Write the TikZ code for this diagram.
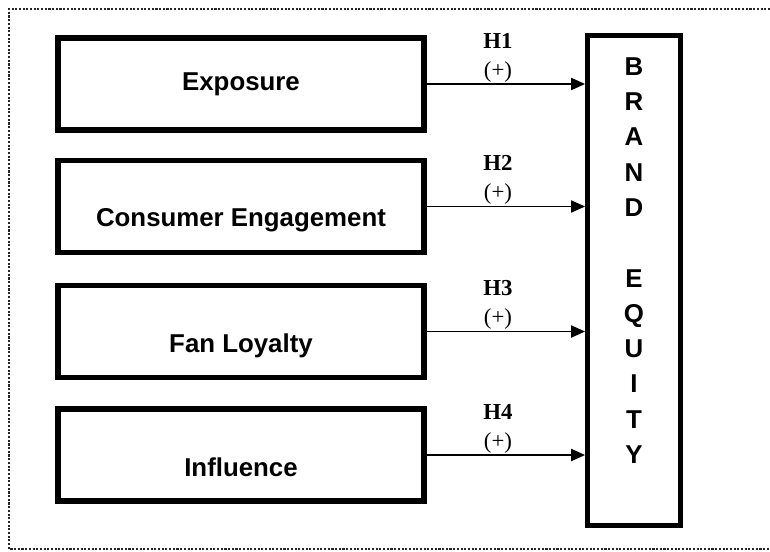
\documentclass[tikz,border=0pt]{standalone}
\usepackage{fontspec}
\setmainfont{Liberation Serif}
\setsansfont{Liberation Sans}
\usepackage{tikz}
\usetikzlibrary{shapes,positioning,arrows.meta}
\tikzset{box/.style={rectangle,draw,line width=3pt,minimum width=7.32cm,minimum height=1.84cm,inner sep=0pt},
         txt/.style={font=\sffamily\bfseries\fontsize{14.7}{17}\selectfont},
         hyp/.style={font=\fontsize{13}{16.4}\selectfont,align=center,inner sep=0.5pt}}

\begin{document}
\begin{tikzpicture}[x=0.02cm,y=-0.02cm,>={Triangle[length=0.28cm,width=0.24cm]}]
        \useasboundingbox (0,0) rectangle (770,551);
        \draw [black!85,line width=1.3pt,dash pattern=on 1.2pt off 0.9pt] (770,9) -- (9,9) -- (9,549) -- (770,549);

        \node[box,label={[txt]center:Exposure}] (a)at (241,84) {};
        \node[box,label={[txt,yshift=-0.27cm]center:Consumer Engagement}] (b)at (241,206.5) {};
        \node[box,label={[txt,yshift=-0.29cm]center:Fan Loyalty}] (c)at (241,331.5) {};
        \node[box,label={[txt,yshift=-0.24cm]center:Influence}] (d)at (241,455) {};
        \node[box,minimum width=1.85cm,minimum height=9.79cm,
              label={[txt,align=center,font=\sffamily\bfseries\fontsize{14.7}{20.1}\selectfont,yshift=0.4cm]center:B\\R\\A\\N\\D\\[20.1pt]E\\Q\\U\\I\\T\\Y}] (e)at (634,280.5) {};

        \draw [->,line width=1.1pt] (a.east) to node[hyp,above,pos=0.45]{\textbf{H1}\\(+)} (a.east -| e.west);
        \draw [->,line width=1.1pt] (b.east) to node[hyp,above,pos=0.45]{\textbf{H2}\\(+)} (b.east -| e.west);
        \draw [->,line width=1.1pt] (c.east) to node[hyp,above,pos=0.45]{\textbf{H3}\\(+)} (c.east -| e.west);
        \draw [->,line width=1.1pt] (d.east) to node[hyp,above,pos=0.45]{\textbf{H4}\\(+)} (d.east -| e.west);
    \end{tikzpicture}
\end{document}
